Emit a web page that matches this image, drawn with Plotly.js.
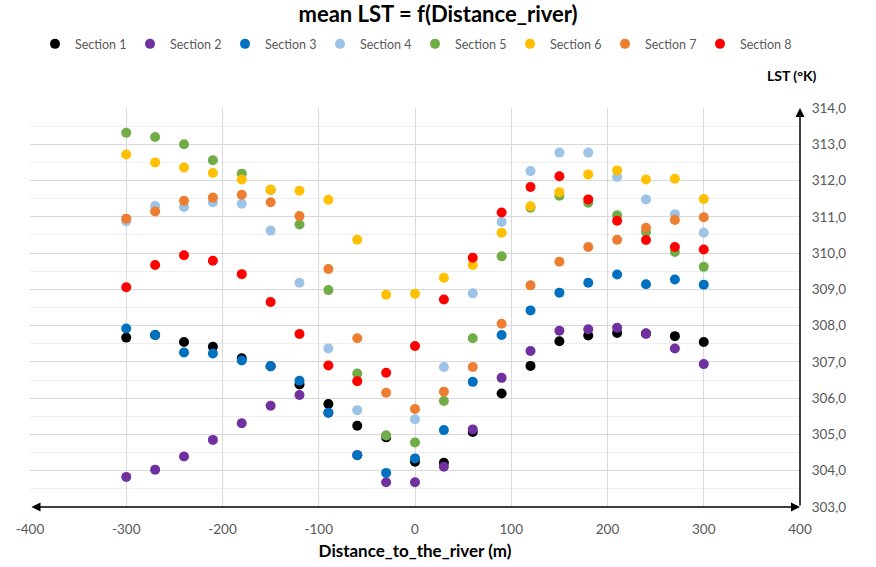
<!DOCTYPE html>
<html>
<head>
<meta charset="utf-8">
<script src="https://cdn.plot.ly/plotly-3.0.1.min.js"></script>
<style>html,body{margin:0;padding:0;background:#fff;}#chart{width:876px;height:567px;}</style>
</head>
<body>
<div id="chart"></div>
<script>
const distance = [-300,-270,-240,-210,-180,-150,-120,-90,-60,-30,0,30,60,90,120,150,180,210,240,270,300];
const sectionNames = ["Section 1","Section 2","Section 3","Section 4","Section 5","Section 6","Section 7","Section 8"];
const sectionColors = ["#000000","#7030A0","#0070C0","#9DC3E6","#70AD47","#FFC000","#ED7D31","#FF0000"];

const section1 = [307.67,307.74,307.55,307.42,307.10,306.88,306.38,305.84,305.24,304.92,304.25,304.22,305.07,306.13,306.89,307.57,307.73,307.80,307.78,307.71,307.55];
const section2 = [303.83,304.03,304.39,304.85,305.31,305.79,306.09,305.60,304.43,303.68,303.68,304.11,305.14,306.56,307.30,307.86,307.90,307.94,307.78,307.37,306.94];
const section3 = [307.92,307.74,307.26,307.23,307.04,306.88,306.48,305.60,304.43,303.94,304.34,305.12,306.45,307.74,308.42,308.91,309.18,309.41,309.14,309.27,309.13];
const section4 = [310.88,311.30,311.27,311.40,311.36,310.62,309.18,307.37,305.67,304.98,305.42,306.86,308.89,310.86,312.26,312.77,312.77,312.10,311.48,311.07,310.56];
const section5 = [313.32,313.20,313.00,312.56,312.19,311.74,310.79,308.98,306.68,304.97,304.78,305.92,307.65,309.91,311.25,311.58,311.39,311.04,310.58,310.03,309.62];
const section6 = [312.72,312.50,312.36,312.21,312.03,311.75,311.72,311.47,310.37,308.85,308.88,309.32,309.67,310.56,311.29,311.68,312.17,312.28,312.03,312.05,311.49];
const section7 = [310.95,311.15,311.44,311.53,311.61,311.40,311.02,309.56,307.65,306.15,305.70,306.18,306.86,308.05,309.11,309.76,310.17,310.37,310.70,310.91,310.99];
const section8 = [309.06,309.67,309.94,309.79,309.42,308.65,307.77,306.90,306.47,306.70,307.44,308.72,309.87,311.12,311.82,312.12,311.48,310.89,310.36,310.17,310.10];

const xTickVals = [-400,-300,-200,-100,0,100,200,300,400];
const xTickText = ["-400","-300","-200","-100","0","100","200","300","400"];

const allSections = [section1,section2,section3,section4,section5,section6,section7,section8];
const traces = allSections.map((vals,i)=>({
  type:'scatter', mode:'markers', name:sectionNames[i],
  x: distance, y: vals,
  marker:{color:sectionColors[i], size:10, line:{width:0}},
  cliponaxis:false
}));

const font = "Lato, 'Open Sans', sans-serif";
const layout = {
  width:876, height:567,
  paper_bgcolor:'#ffffff', plot_bgcolor:'#ffffff',
  separators:', ',
  margin:{l:30, r:76, t:108, b:60},
  title:{text:'<b>mean LST = f(Distance_river)</b>', font:{family:font, size:22, color:'#000000'},
         x:0.5, xanchor:'center', y:0.974, yanchor:'middle', yref:'container'},
  showlegend:true,
  legend:{orientation:'h', x:0.5, xanchor:'center', y:0.922, yanchor:'middle', yref:'container',
          font:{family:font, size:12.5, color:'#595959'}, entrywidth:50, entrywidthmode:'pixels',
          itemwidth:30, tracegroupgap:0},
  xaxis:{range:[-400,400], tickvals:xTickVals, ticktext:xTickText,
         showgrid:true, gridcolor:'#d9d9d9', gridwidth:1, zeroline:false, showline:false,
         ticks:'outside', ticklen:10, tickcolor:'rgba(0,0,0,0)',
         tickfont:{family:font, size:13.5, color:'#595959'},
         title:{text:'<b>Distance_to_the_river (m)</b>', font:{family:font, size:17, color:'#000000'}, standoff:8}},
  yaxis:{range:[303,314], side:'right', dtick:1, tick0:303, tickformat:'.1f',
         showgrid:true, gridcolor:'#d9d9d9', gridwidth:1, zeroline:false, showline:false,
         ticks:'outside', ticklen:8, tickcolor:'rgba(0,0,0,0)',
         minor:{dtick:0.5, showgrid:true, gridcolor:'#eeeeee', ticks:''},
         tickfont:{family:font, size:13.5, color:'#595959'}},
  annotations:[
    {xref:'x', yref:'y', axref:'x', ayref:'y', x:400, y:303, ax:-400, ay:303, text:'',
     showarrow:true, arrowhead:2, arrowside:'end+start', arrowsize:1.2, arrowwidth:1.5, arrowcolor:'#000000'},
    {xref:'x', yref:'y', axref:'x', ayref:'y', x:400, y:314, ax:400, ay:303, text:'',
     showarrow:true, arrowhead:2, arrowside:'end', arrowsize:1.2, arrowwidth:1.5, arrowcolor:'#000000'},
    {xref:'paper', yref:'paper', x:(792-30)/770, y:(507-75)/399, xanchor:'center', yanchor:'middle', showarrow:false,
     text:'<b>LST (°K)</b>', font:{family:font, size:14, color:'#000000'}}
  ]
};
Plotly.newPlot('chart', traces, layout, {displayModeBar:false, staticPlot:true});
</script>
</body>
</html>
